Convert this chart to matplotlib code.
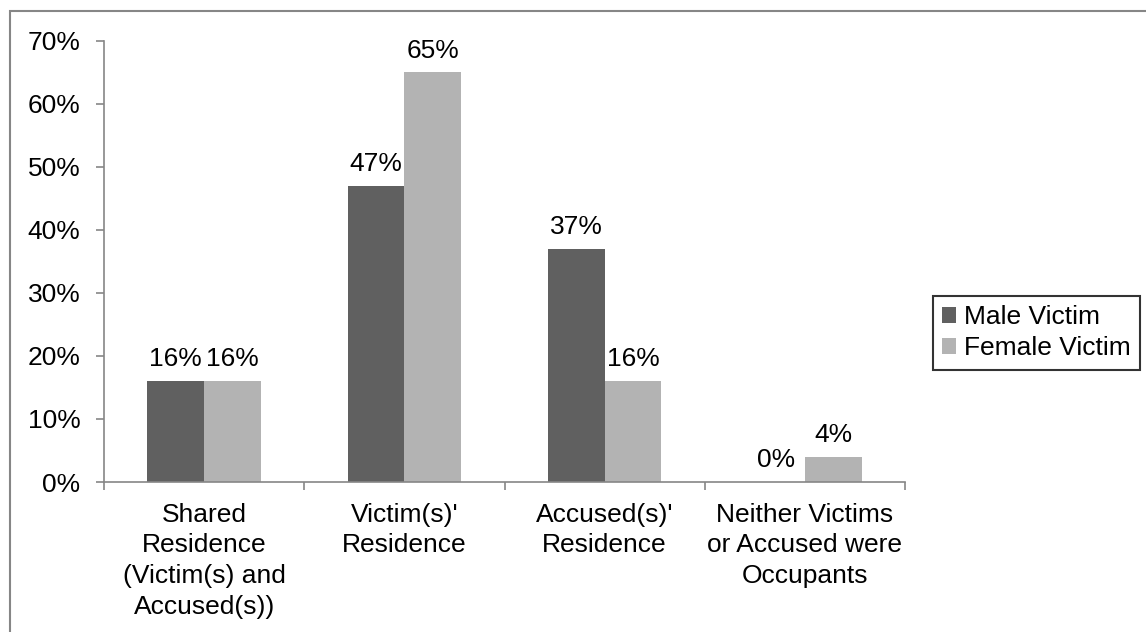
import matplotlib.pyplot as plt
import numpy as np
from matplotlib.patches import Rectangle

# chart data
categories = [
    "Shared\nResidence\n(Victim(s) and\nAccused(s))",
    "Victim(s)'\nResidence",
    "Accused(s)'\nResidence",
    "Neither Victims\nor Accused were\nOccupants",
]
male_victim = [16, 47, 37, 0]
female_victim = [16, 65, 16, 4]
series_names = ["Male Victim", "Female Victim"]
y_ticks = [0, 10, 20, 30, 40, 50, 60, 70]

plt.rcParams["font.family"] = ["Liberation Sans", "DejaVu Sans"]
FS = 19

W, H = 1146, 632
fig = plt.figure(figsize=(W / 100, H / 100), dpi=100)

# gray outer chart border (right/bottom edges run off the canvas)
fig.patches.append(Rectangle((9.5 / W, -0.05), 2, (H - 10.5) / H + 0.05,
                             transform=fig.transFigure, fill=False,
                             edgecolor="#868686", lw=1.5))

ax = fig.add_axes([104 / W, 1 - 482 / H, (905 - 104) / W, (482 - 41) / H])

x = np.arange(len(categories))
w = 0.284
axis_gray = "#868686"

b1 = ax.bar(x - w / 2, male_victim, w, color="#606060", label=series_names[0])
b2 = ax.bar(x + w / 2, female_victim, w, color="#b3b3b3", label=series_names[1])

ax.bar_label(b1, labels=[f"{v}%" for v in male_victim], padding=7, fontsize=FS)
ax.bar_label(b2, labels=[f"{v}%" for v in female_victim], padding=7, fontsize=FS)

ax.set_xlim(-0.5, len(categories) - 0.5)
ax.set_ylim(0, 70)
ax.set_yticks(y_ticks, [f"{v}%" for v in y_ticks])
ax.set_xticks(x)
ax.set_xticks(np.arange(-0.5, len(categories), 1), minor=True)

for side in ["top", "right"]:
    ax.spines[side].set_visible(False)
for side in ["left", "bottom"]:
    ax.spines[side].set_color(axis_gray)
    ax.spines[side].set_linewidth(1.2)

ax.tick_params(axis="y", length=6, width=1.2, color=axis_gray, pad=11, labelsize=FS)
ax.tick_params(axis="x", which="major", length=0, pad=15, labelsize=FS)
ax.tick_params(axis="x", which="minor", length=6, width=1.2, color=axis_gray)
ax.set_xticklabels(categories, linespacing=1.35)

leg = fig.legend(loc="upper left", bbox_to_anchor=(933 / W, 1 - 296 / H),
                 bbox_transform=fig.transFigure, fontsize=FS, frameon=True,
                 fancybox=False, edgecolor="black", handlelength=0.53,
                 handleheight=0.53, handletextpad=0.28, labelspacing=0.27,
                 borderpad=0.35, borderaxespad=0)
leg.get_frame().set_linewidth(1.5)

fig.savefig("out.png", dpi=100)
plt.close(fig)
